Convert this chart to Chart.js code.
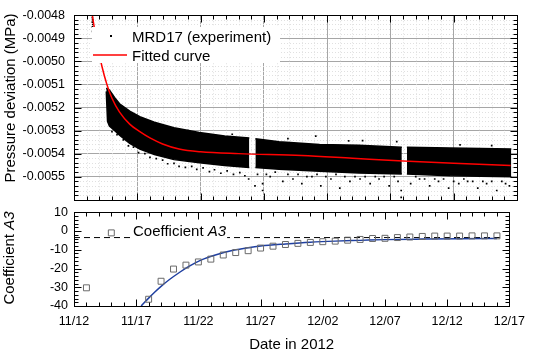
<!DOCTYPE html>
<html>
<head>
<meta charset="utf-8">
<script src="https://cdn.jsdelivr.net/npm/chart.js@4.4.0/dist/chart.umd.min.js"></script>
<style>
  body { margin: 0; background: #fff; }
  #wrap { position: relative; width: 533px; height: 352px; overflow: hidden; background: #fff; }
  canvas { position: absolute; left: 0; }
  #topChart { top: 0; }
  #botChart { top: 200px; }
</style>
</head>
<body>
<div id="wrap">
  <canvas id="topChart" width="533" height="215"></canvas>
  <canvas id="botChart" width="533" height="152"></canvas>
</div>
<script>
// ========================
// DATA  (x = days after 11/12, so 11/12 = 0 and 12/17 = 35)
// ========================
const dateTicks = ['11/12', '11/17', '11/22', '11/27', '12/02', '12/07', '12/12', '12/17'];
const pressureTicks = ['-0.0048', '-0.0049', '-0.0050', '-0.0051', '-0.0052', '-0.0053', '-0.0054', '-0.0055'];
const a3Ticks = ['10', '0', '-10', '-20', '-30', '-40'];

// MRD17 measurement: dense band (upper / lower edge), null = gap in the record
const bandDays   = [2.55, 2.65, 2.8, 3.2, 3.6, 4.4, 5.2, 6.35, 7.9, 9.9, 11.9, 13.85, null, 14.33, 16.2, 19.4, 22.5, 25.9, null, 26.3, 29.7, 34.55];
const bandTop    = [-0.005116, -0.00512, -0.005124, -0.005156, -0.005184, -0.005216, -0.00524, -0.005264, -0.005288, -0.005308, -0.005324, -0.005332, null,
                    -0.005336, -0.005348, -0.00536, -0.005364, -0.005372, null, -0.005372, -0.005376, -0.00538];
const bandBottom = [-0.00513, -0.00526, -0.00528, -0.0053, -0.00532, -0.005356, -0.00538, -0.005404, -0.005426, -0.00544, -0.005452, -0.00546, null,
                    -0.00546, -0.005468, -0.005476, -0.005484, -0.005488, null, -0.005488, -0.005496, -0.0055];

// MRD17 measurement: sparse points outside the dense band
const expDays   = [1.45, 1.45, 1.47, 1.45, 1.48, 1.46, 1.5, 1.47,
                   3.0, 3.4, 3.9, 4.3, 4.7, 5.1, 5.6, 6.0, 6.5, 7.0, 7.4, 7.9, 8.3, 8.8, 9.3, 9.7, 10.2, 10.7, 11.1, 11.6, 12.1, 12.6, 13.1, 13.5, 13.8,
                   9.0, 12.5, 16.9, 19.1, 21.7, 22.8, 25.5, 30.5, 33.0,
                   14.3, 14.5, 14.9, 14.9, 15.2, 15.5, 15.9, 16.5, 16.9, 17.3, 17.7, 18.0, 18.4, 18.8, 19.2, 19.5, 19.9, 20.3, 20.7, 21.0, 21.4, 21.8,
                   22.2, 22.6, 23.0, 23.4, 23.8, 24.1, 24.5, 24.9, 25.3, 25.6, 25.85, 25.85,
                   26.6, 27.0, 27.3, 27.7, 28.1, 28.5, 28.8, 29.2, 29.6, 30.0, 30.4, 30.8, 31.1, 31.5, 31.9, 32.3, 32.6, 33.0, 33.4, 33.8, 34.1, 34.4];
const expValues = [-0.0048, -0.00481, -0.00482, -0.00483, -0.00484, -0.00485, -0.00486, -0.00487,
                   -0.005305, -0.005318, -0.00534, -0.005366, -0.005372, -0.005396, -0.0054, -0.005416, -0.005422, -0.005428, -0.005444, -0.005442, -0.005455,
                   -0.00546, -0.005455, -0.005468, -0.005462, -0.005478, -0.00547, -0.005485, -0.005475, -0.00549, -0.005482, -0.005496, -0.00551,
                   -0.0053, -0.005316, -0.005335, -0.005324, -0.005345, -0.005344, -0.005348, -0.005362, -0.005365,
                   -0.00554, -0.00549, -0.00556, -0.00553, -0.00549, -0.0055, -0.00548, -0.00552, -0.00549, -0.00551, -0.00549, -0.00553, -0.0055, -0.0055,
                   -0.00549, -0.00554, -0.0055, -0.00551, -0.00549, -0.00555, -0.0055, -0.00552,
                   -0.0055, -0.00551, -0.0055, -0.00553, -0.0055, -0.00551, -0.0055, -0.00554, -0.0055, -0.00552, -0.00556, -0.00559,
                   -0.00553, -0.0055, -0.00551, -0.00551, -0.00554, -0.00551, -0.00552, -0.00551, -0.00555, -0.00552, -0.00553, -0.00551, -0.00552, -0.00552,
                   -0.00555, -0.00552, -0.00553, -0.00552, -0.00556, -0.00552, -0.00553, -0.00554];

// fitted pressure curve
const fitDays     = [1.4, 1.45, 1.75, 2.2, 2.6, 3.0, 3.6, 4.4, 5.2, 6.0, 7.0, 8.3, 10, 13, 18, 22, 26, 30, 34.5];
const fitPressure = [-0.00478, -0.0048, -0.0049, -0.00502, -0.0051, -0.00516, -0.00522, -0.005272, -0.005305, -0.005332, -0.005358, -0.00538, -0.005392, -0.0054, -0.005408, -0.00542, -0.005432, -0.005442, -0.005452];

// coefficient A3 per day and its fit
const a3Days   = [1, 3, 6, 7, 8, 9, 10, 11, 12, 13, 14, 15, 16, 17, 18, 19, 20, 21, 22, 23, 24, 25, 26, 27, 28, 29, 30, 31, 32, 33, 34];
const a3Values = [-30.3, -1, -36.4, -26.8, -20.3, -18.2, -16.5, -15, -12.8, -11.5, -10.5, -9.1, -8.1, -7.2, -6.6, -6.1, -5.7, -5.4, -4.9, -4.5,
                  -4.0, -3.9, -3.5, -3.2, -2.9, -2.7, -2.7, -2.7, -2.6, -2.6, -2.6];
const a3FitDays = [5.4, 6.0, 6.5, 7.0, 7.65, 8.5, 9.2, 10.2, 11.5, 12.8, 14, 15, 17, 19, 21, 23, 25, 28, 31, 34];
const a3Fit     = [-40, -35.8, -32.5, -29.5, -26, -22, -19, -15.5, -12.5, -10.3, -8.9, -8, -6.9, -6.0, -5.4, -5.0, -4.6, -4.3, -4.1, -4.0];
const a3Limit   = -3.5;   // asymptote, dashed line

const FONT = "'Liberation Sans', Arial, sans-serif";

// ----------------- HELPERS -----------------
const pts = (xs, ys) => xs.map((x, i) => ({ x, y: ys[i] }));

function bandSegments() {
	const segs = [];
	let cur = null;
	bandDays.forEach((d, i) => {
		if (d === null) { cur = null; return; }
		if (!cur) { cur = { top: [], bottom: [] }; segs.push(cur); }
		cur.top.push({ x: d, y: bandTop[i] });
		cur.bottom.push({ x: d, y: bandBottom[i] });
	});
	return segs;
}

function line(ctx, x1, y1, x2, y2) {
	ctx.beginPath();
	ctx.moveTo(x1, y1);
	ctx.lineTo(x2, y2);
	ctx.stroke();
}

// ----------------- FRAME / TICKS / LABELS PLUGIN -----------------
const framePlugin = {
	id: 'frame',
	beforeDatasetsDraw(chart, args, o) {
		if (!o.minorGrid) return;
		const { ctx, chartArea: a, scales: { x, y } } = chart;
		ctx.save();
		ctx.strokeStyle = '#e0e0e0';
		ctx.lineWidth = 1;
		ctx.setLineDash([1, 2]);
		for (let d = 1; d < 35; d++) {
			if (d % 5 === 0) continue;
			const px = Math.round(x.getPixelForValue(d)) + 0.5;
			line(ctx, px, a.top, px, a.bottom);
		}
		const n = Math.round((o.yMax - o.yMin) / o.yMinor);
		const per = Math.round(o.yMajor / o.yMinor);
		for (let k = 1; k < n; k++) {
			if (k % per === 0) continue;
			const py = Math.round(y.getPixelForValue(o.yMin + k * o.yMinor)) + 0.5;
			line(ctx, a.left, py, a.right, py);
		}
		ctx.restore();
	},
	afterDatasetsDraw(chart, args, o) {
		const { ctx, chartArea: a, scales: { x, y } } = chart;
		const L = Math.round(a.left) + 0.5, R = Math.round(a.right) + 0.5;
		const T = Math.round(a.top) + 0.5, B = Math.round(a.bottom) + 0.5;
		ctx.save();

		// legend / label boxes
		if (o.legend) {
			ctx.fillStyle = '#fff';
			ctx.fillRect(92, 27, 188, 36);
			ctx.fillStyle = '#000';
			ctx.fillRect(110, 35, 2, 2);
			ctx.strokeStyle = '#ff0000';
			ctx.lineWidth = 1.5;
			line(ctx, 93, 55, 127, 55);
			ctx.font = `15px ${FONT}`;
			ctx.textBaseline = 'alphabetic';
			ctx.fillStyle = '#000';
			ctx.fillText('MRD17 (experiment)', 132, 42);
			ctx.fillText('Fitted curve', 132, 61);
		}
		if (o.a3Label) {
			ctx.font = `15px ${FONT}`;
			const w1 = ctx.measureText('Coefficient ').width;
			ctx.font = `italic 15px ${FONT}`;
			const w2 = ctx.measureText('A3').width;
			ctx.fillStyle = '#fff';
			ctx.fillRect(131, 21, w1 + w2 + 3, 18);
			ctx.fillStyle = '#000';
			ctx.textBaseline = 'alphabetic';
			ctx.font = `15px ${FONT}`;
			ctx.fillText('Coefficient ', 133, 36);
			ctx.font = `italic 15px ${FONT}`;
			ctx.fillText('A3', 133 + w1, 36);
		}

		// frame
		ctx.strokeStyle = '#000';
		ctx.lineWidth = 1;
		ctx.setLineDash([]);
		ctx.strokeRect(L, T, R - L, B - T);

		// inward ticks on all four sides
		for (let d = 0; d <= 35; d++) {
			const len = d % 5 === 0 ? 7 : 4;
			const px = Math.round(x.getPixelForValue(d)) + 0.5;
			line(ctx, px, B, px, B - len);
			line(ctx, px, T, px, T + len);
		}
		const n = Math.round((o.yMax - o.yMin) / o.yMinor);
		const per = Math.round(o.yMajor / o.yMinor);
		for (let k = 0; k <= n; k++) {
			const len = k % per === 0 ? 7 : 4;
			const py = Math.round(y.getPixelForValue(o.yMin + k * o.yMinor)) + 0.5;
			line(ctx, L, py, L + len, py);
			line(ctx, R, py, R - len, py);
		}

		// y axis title (rotated, may mix italic)
		if (o.yTitle) {
			ctx.translate(o.yTitle.x, o.yTitle.y);
			ctx.rotate(-Math.PI / 2);
			ctx.textBaseline = 'middle';
			ctx.fillStyle = '#000';
			const parts = o.yTitle.parts;
			let total = 0;
			parts.forEach(p => { ctx.font = p.font; total += ctx.measureText(p.text).width; });
			let cx = -total / 2;
			parts.forEach(p => {
				ctx.font = p.font;
				ctx.fillText(p.text, cx, 0);
				cx += ctx.measureText(p.text).width;
			});
		}
		ctx.restore();
	}
};

const tickFont = { family: FONT, size: 12.5, lineHeight: 1 };

// ----------------- TOP PANEL: PRESSURE -----------------
const bandSets = [];
bandSegments().forEach(seg => {
	bandSets.push({ data: seg.top, fill: '+1', backgroundColor: '#000', borderColor: '#000', borderWidth: 1.5, pointRadius: 0 });
	bandSets.push({ data: seg.bottom, fill: false, borderColor: '#000', borderWidth: 1.5, pointRadius: 0 });
});

new Chart(document.getElementById('topChart'), {
	type: 'line',
	data: {
		datasets: [
			{
				label: 'Fitted curve',
				data: pts(fitDays, fitPressure),
				borderColor: '#ff0000',
				borderWidth: 1.5,
				pointRadius: 0,
				cubicInterpolationMode: 'monotone',
				fill: false
			},
			{
				label: 'MRD17 (experiment)',
				data: pts(expDays, expValues),
				showLine: false,
				pointStyle: 'rect',
				pointRadius: 1.2,
				backgroundColor: '#000',
				borderWidth: 0
			},
			...bandSets
		]
	},
	options: {
		responsive: false,
		animation: false,
		layout: { padding: { top: 7, right: 16, bottom: 8, left: 0 } },
		plugins: {
			legend: { display: false },
			tooltip: { enabled: false },
			frame: {
				minorGrid: true, legend: true,
				yMin: -0.0056, yMax: -0.0048, yMajor: 0.0001, yMinor: 0.00002,
				yTitle: { x: 11, y: 98, parts: [{ text: 'Pressure deviation (MPa)', font: `15px ${FONT}` }] }
			}
		},
		scales: {
			x: {
				type: 'linear', min: 0, max: 35,
				afterBuildTicks: s => { s.ticks = dateTicks.map((t, i) => ({ value: i * 5 })); },
				afterFit: s => { s.height = 0; },
				ticks: { display: false },
				grid: { color: '#a6a6a6', drawTicks: false },
				border: { display: false }
			},
			y: {
				type: 'linear', min: -0.0056, max: -0.0048,
				afterBuildTicks: s => { s.ticks = pressureTicks.map(t => ({ value: parseFloat(t) })); },
				afterFit: s => { s.width = 74; },
				ticks: { callback: (v, i) => pressureTicks[i], font: tickFont, color: '#000', padding: 9 },
				grid: { color: '#a6a6a6', drawTicks: false },
				border: { display: false }
			}
		}
	},
	plugins: [framePlugin]
});

// ----------------- BOTTOM PANEL: COEFFICIENT A3 -----------------
new Chart(document.getElementById('botChart'), {
	type: 'line',
	data: {
		datasets: [
			{
				label: 'Coefficient A3',
				data: pts(a3Days, a3Values),
				showLine: false,
				pointStyle: 'rect',
				pointRadius: 4.2,
				borderColor: '#6a6a6a',
				borderWidth: 1,
				backgroundColor: 'rgba(0,0,0,0)'
			},
			{
				label: 'A3 fit',
				data: pts(a3FitDays, a3Fit),
				borderColor: '#1f3fa0',
				borderWidth: 1.5,
				pointRadius: 0,
				cubicInterpolationMode: 'monotone',
				fill: false
			},
			{
				label: 'A3 limit',
				data: [{ x: 0, y: a3Limit }, { x: 34.5, y: a3Limit }],
				borderColor: '#000',
				borderWidth: 1,
				borderDash: [6, 4],
				pointRadius: 0,
				fill: false
			}
		]
	},
	options: {
		responsive: false,
		animation: false,
		layout: { padding: { top: 7, right: 16, bottom: 0, left: 0 } },
		plugins: {
			legend: { display: false },
			tooltip: { enabled: false },
			frame: {
				minorGrid: false, a3Label: true,
				yMin: -40, yMax: 10, yMajor: 10, yMinor: 2,
				yTitle: { x: 10, y: 58, parts: [
					{ text: 'Coefficient ', font: `15px ${FONT}` },
					{ text: 'A3', font: `italic 15px ${FONT}` }
				] }
			}
		},
		scales: {
			x: {
				type: 'linear', min: 0, max: 35,
				afterBuildTicks: s => { s.ticks = dateTicks.map((t, i) => ({ value: i * 5 })); },
				afterFit: s => { s.height = 46; },
				ticks: { callback: (v, i) => dateTicks[i], font: { family: FONT, size: 12.5 }, color: '#000', padding: 8, maxRotation: 0 },
				grid: { display: false, drawTicks: false },
				border: { display: false },
				title: { display: true, text: 'Date in 2012', color: '#000', font: { family: FONT, size: 15, lineHeight: 1 }, padding: { top: 0, bottom: 0 } }
			},
			y: {
				type: 'linear', min: -40, max: 10,
				afterBuildTicks: s => { s.ticks = a3Ticks.map(t => ({ value: parseFloat(t) })); },
				afterFit: s => { s.width = 74; },
				ticks: { callback: (v, i) => a3Ticks[i], font: tickFont, color: '#000', padding: 6 },
				grid: { display: false, drawTicks: false },
				border: { display: false }
			}
		}
	},
	plugins: [framePlugin]
});
</script>
</body>
</html>
